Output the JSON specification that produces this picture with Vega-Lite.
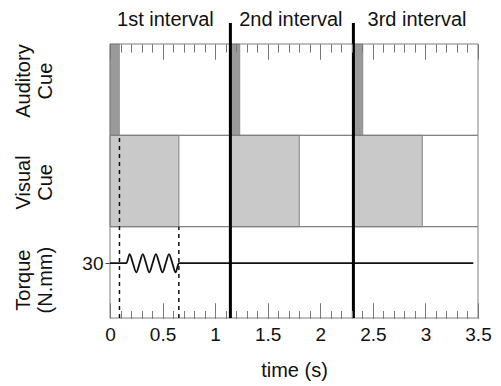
{
  "$schema": "https://vega.github.io/schema/vega-lite/v6.json",
  "width": 368,
  "height": 274,
  "autosize": "none",
  "padding": {"left": 110, "top": 44, "right": 23, "bottom": 68},
  "background": "white",
  "config": {
    "view": {"stroke": null},
    "axis": {"grid": false, "domain": false, "labelFont": "Liberation Sans", "titleFont": "Liberation Sans", "labelColor": "#111", "titleColor": "#111", "titleFontWeight": "normal", "tickOpacity": 1, "gridOpacity": 1},
    "axisX": {"tickOpacity": 1, "gridOpacity": 1},
    "text": {"font": "Liberation Sans"}
  },
  "resolve": {"scale": {"x": "independent", "y": "independent"}},
  "layer": [
    {
      "data": {"values": [{"start": 0, "end": 0.655}, {"start": 1.145, "end": 1.8}, {"start": 2.315, "end": 2.97}]},
      "mark": {"type": "rect", "fill": "#c9c9c9", "stroke": "#808080", "strokeWidth": 1},
      "encoding": {
        "x": {"field": "start", "type": "quantitative", "scale": {"domain": [0, 3.5], "nice": false, "zero": false},
              "axis": {"orient": "top", "values": [0,0.1,0.2,0.3,0.4,0.5,0.6,0.7,0.8,0.9,1,1.1,1.2,1.3,1.4,1.5,1.6,1.7,1.8,1.9,2,2.1,2.2,2.3,2.4,2.5,2.6,2.7,2.8,2.9,3,3.1,3.2,3.3,3.4,3.5], "labels": false, "ticks": true, "tickColor": "#777", "tickOpacity": 1, "tickWidth": 1, "tickSize": {"condition": {"test": "abs(datum.value * 2 - round(datum.value * 2)) < 0.001", "value": -15}, "value": -8}, "zindex": 1, "title": null}},
        "x2": {"field": "end"},
        "y": {"datum": 1, "type": "quantitative", "scale": {"domain": [0, 3], "nice": false, "zero": false}, "axis": null},
        "y2": {"datum": 2}
      }
    },
    {
      "data": {"values": [{"start": 0, "end": 0.09}, {"start": 1.145, "end": 1.235}, {"start": 2.315, "end": 2.405}]},
      "mark": {"type": "rect", "fill": "#9a9a9a", "stroke": "#707070", "strokeWidth": 0.5},
      "encoding": {
        "x": {"field": "start", "type": "quantitative", "scale": {"domain": [0, 3.5], "nice": false, "zero": false}, "axis": null},
        "x2": {"field": "end"},
        "y": {"datum": 2, "type": "quantitative", "scale": {"domain": [0, 3], "nice": false, "zero": false}, "axis": null},
        "y2": {"datum": 3}
      }
    },
    {
      "data": {"values": [{"lane": "Torque", "lo": 0, "hi": 1, "t0": 0, "t1": 3.5}, {"lane": "Visual", "lo": 1, "hi": 2, "t0": 0, "t1": 3.5}, {"lane": "Auditory", "lo": 2, "hi": 3, "t0": 0, "t1": 3.5}]},
      "mark": {"type": "rect", "fill": null, "stroke": "#808080", "strokeWidth": 1},
      "encoding": {
        "x": {"field": "t0", "type": "quantitative", "scale": {"domain": [0, 3.5], "nice": false, "zero": false},
              "axis": {"orient": "bottom", "values": [0,0.1,0.2,0.3,0.4,0.5,0.6,0.7,0.8,0.9,1,1.1,1.2,1.3,1.4,1.5,1.6,1.7,1.8,1.9,2,2.1,2.2,2.3,2.4,2.5,2.6,2.7,2.8,2.9,3,3.1,3.2,3.3,3.4,3.5],
                       "labelExpr": "abs(datum.value * 2 - round(datum.value * 2)) < 0.001 ? format(datum.value, '~g') : ''",
                       "ticks": false, "grid": true, "gridColor": "#777", "gridWidth": 1, "gridOpacity": 1, "zindex": 1,
                       "gridDash": {"condition": {"test": "abs(datum.value * 2 - round(datum.value * 2)) < 0.001", "value": [15, 244]}, "value": [7.5, 259]},
                       "labelFontSize": 19, "labelPadding": 7, "labelFlush": false, "labelOverlap": false, "title": "time (s)", "titleFontSize": 20, "titlePadding": 16}},
        "x2": {"field": "t1"},
        "y": {"field": "lo", "type": "quantitative", "scale": {"domain": [0, 3], "nice": false, "zero": false},
              "axis": {"orient": "left", "values": [0.42, 1.49, 2.6], "ticks": false, "labelExpr": "datum.value < 1 ? ['Torque', '(N.mm)'] : datum.value < 2 ? ['Visual', 'Cue'] : ['Auditory', 'Cue']", "labelAngle": 270, "labelAlign": "center", "labelBaseline": "middle", "labelPadding": 87, "labelFontSize": 20, "labelLineHeight": 22, "labelOverlap": false, "labelBound": false, "title": null}},
        "y2": {"field": "hi"}
      }
    },
    {
      "data": {"values": [{"t":0,"v":30},{"t":0.156,"v":30},{"t":0.187,"v":35},{"t":0.218,"v":30},{"t":0.25,"v":25},{"t":0.281,"v":30},{"t":0.312,"v":35},{"t":0.343,"v":30},{"t":0.374,"v":25},{"t":0.405,"v":30},{"t":0.437,"v":35},{"t":0.468,"v":30},{"t":0.499,"v":25},{"t":0.53,"v":30},{"t":0.561,"v":35},{"t":0.593,"v":30},{"t":0.624,"v":25},{"t":0.655,"v":30},{"t":3.455,"v":30}]},
      "mark": {"type": "line", "color": "#111", "strokeWidth": 1.8, "interpolate": "monotone"},
      "encoding": {
        "x": {"field": "t", "type": "quantitative", "scale": {"domain": [0, 3.5], "nice": false, "zero": false},
              "axis": {"orient": "bottom", "values": [0,0.1,0.2,0.3,0.4,0.5,0.6,0.7,0.8,0.9,1,1.1,1.2,1.3,1.4,1.5,1.6,1.7,1.8,1.9,2,2.1,2.2,2.3,2.4,2.5,2.6,2.7,2.8,2.9,3,3.1,3.2,3.3,3.4,3.5], "labels": false, "ticks": true, "tickColor": "#777", "tickOpacity": 1, "tickWidth": 1, "tickSize": {"condition": {"test": "abs(datum.value * 2 - round(datum.value * 2)) < 0.001", "value": -15}, "value": -7.5}, "zindex": 1, "title": null}},
        "y": {"field": "v", "type": "quantitative", "scale": {"domain": [0, 150], "nice": false, "zero": false},
              "axis": {"orient": "left", "values": [30], "tickSize": 5, "tickColor": "#444", "labelFontSize": 19, "labelPadding": 2, "title": null}}
      }
    },
    {
      "data": {"values": [{"t": 0.09, "bottom": 0, "top": 2}, {"t": 0.655, "bottom": 0, "top": 1}]},
      "mark": {"type": "rule", "color": "#111", "strokeWidth": 1.5, "strokeDash": [4, 4]},
      "encoding": {
        "x": {"field": "t", "type": "quantitative", "scale": {"domain": [0, 3.5], "nice": false, "zero": false}, "axis": null},
        "y": {"field": "bottom", "type": "quantitative", "scale": {"domain": [0, 3], "nice": false, "zero": false}, "axis": null},
        "y2": {"field": "top"}
      }
    },
    {
      "data": {"values": [{"t": 1.145}, {"t": 2.315}]},
      "mark": {"type": "rule", "color": "#000", "strokeWidth": 3},
      "encoding": {
        "x": {"field": "t", "type": "quantitative", "scale": {"domain": [0, 3.5], "nice": false, "zero": false}, "axis": null},
        "y": {"datum": 0, "type": "quantitative", "scale": {"domain": [0, 3], "nice": false, "zero": false}, "axis": null},
        "y2": {"datum": 3.23}
      }
    },
    {
      "data": {"values": [{"label": "1st interval", "t": 0.527}, {"label": "2nd interval", "t": 1.72}, {"label": "3rd interval", "t": 2.92}]},
      "mark": {"type": "text", "fontSize": 20, "color": "#111", "baseline": "middle", "align": "center"},
      "encoding": {
        "x": {"field": "t", "type": "quantitative", "scale": {"domain": [0, 3.5], "nice": false, "zero": false}, "axis": null},
        "y": {"datum": 3.26, "type": "quantitative", "scale": {"domain": [0, 3], "nice": false, "zero": false}, "axis": null},
        "text": {"field": "label"}
      }
    }
  ]
}
